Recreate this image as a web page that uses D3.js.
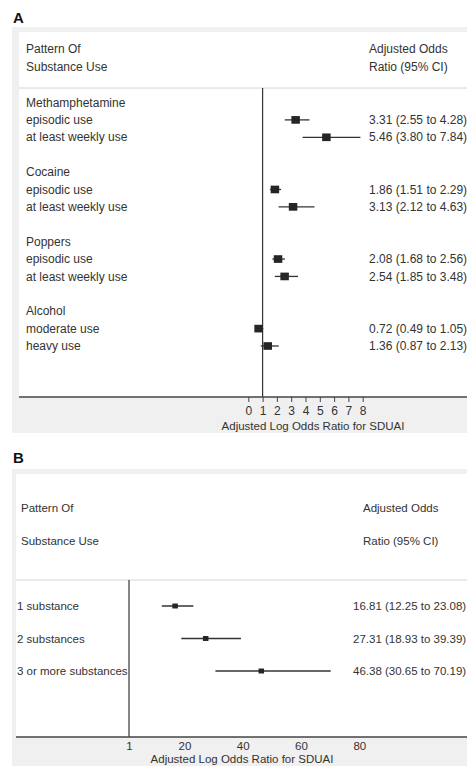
<!DOCTYPE html>
<html><head><meta charset="utf-8">
<script src="https://cdn.jsdelivr.net/npm/d3@7"></script>
<style>
html,body{margin:0;padding:0;background:#fff;overflow:hidden}
svg{display:block}
text{font-family:"Liberation Sans",Arial,sans-serif;fill:#333}
</style></head>
<body>
<svg id="c" width="467" height="766"></svg>
<script>
// ---- Panel A data ----
const labelsA = ["Methamphetamine","episodic use","at least weekly use","","Cocaine","episodic use","at least weekly use","","Poppers","episodic use","at least weekly use","","Alcohol","moderate use","heavy use"];
const orA   = [null,3.31,5.46,null,null,1.86,3.13,null,null,2.08,2.54,null,null,0.72,1.36];
const lowA  = [null,2.55,3.80,null,null,1.51,2.12,null,null,1.68,1.85,null,null,0.49,0.87];
const highA = [null,4.28,7.84,null,null,2.29,4.63,null,null,2.56,3.48,null,null,1.05,2.13];
const ticksA = [0,1,2,3,4,5,6,7,8];
// ---- Panel B data ----
const labelsB = ["1 substance","2 substances","3 or more substances"];
const orB   = [16.81,27.31,46.38];
const lowB  = [12.25,18.93,30.65];
const highB = [23.08,39.39,70.19];
const ticksB = [1,20,40,60,80];
const headLeft = ["Pattern Of","Substance Use"];
const headRight = ["Adjusted Odds","Ratio (95% CI)"];
const axisTitle = "Adjusted Log Odds Ratio for SDUAI";

const svg = d3.select("#c");
const fmt = d3.format(".2f");
const W = 467;

function panel(cfg){
  const fs = cfg.fontSize + "px";
  const g = svg.append("g");
  // outer grey frame
  g.append("rect").attr("x",12).attr("y",cfg.frameTop).attr("width",W).attr("height",cfg.frameBottom-cfg.frameTop).attr("fill","#f0f0f0");
  g.append("rect").attr("x",cfg.innerLeft).attr("y",cfg.innerTop).attr("width",W).attr("height",cfg.axisY-cfg.innerTop).attr("fill","#fff");
  // panel letter
  g.append("text").attr("x",13).attr("y",cfg.letterY).attr("dy","0.35em").style("font-size","15px").style("font-weight","bold").style("fill","#111").text(cfg.letter);
  // headers
  headLeft.forEach((t,i)=>g.append("text").attr("x",cfg.headLeftX).attr("y",cfg.headY[i]).attr("dy","0.35em").style("font-size",fs).text(t));
  headRight.forEach((t,i)=>g.append("text").attr("x",cfg.headRightX).attr("y",cfg.headY[i]).attr("dy","0.35em").style("font-size",fs).text(t));
  // separator
  g.append("line").attr("x1",cfg.innerLeft).attr("x2",W).attr("y1",cfg.sepY).attr("y2",cfg.sepY).attr("stroke","#d4d4d4").attr("stroke-width",1);
  const x = d3.scaleLinear().domain(cfg.domain).range(cfg.range);
  const y = d3.scalePoint().domain(d3.range(cfg.labels.length)).range(cfg.rowRange);
  // reference line
  g.append("line").attr("x1",x(1)).attr("x2",x(1)).attr("y1",cfg.sepY).attr("y2",cfg.axisY).attr("stroke","#333").attr("stroke-width",1.2);
  // labels
  g.selectAll(null).data(cfg.labels).enter().append("text")
    .attr("x",cfg.labelX).attr("y",(d,i)=>y(i)).attr("dy","0.35em").style("font-size",fs).text(d=>d);
  const idx = d3.range(cfg.labels.length).filter(i=>cfg.or[i]!=null);
  // CI lines
  g.selectAll(null).data(idx).enter().append("line")
    .attr("x1",i=>x(cfg.low[i])).attr("x2",i=>x(cfg.high[i]))
    .attr("y1",i=>y(i)).attr("y2",i=>y(i)).attr("stroke","#333").attr("stroke-width",1.3);
  // markers
  const s = cfg.markerSize;
  g.selectAll(null).data(idx).enter().append("rect")
    .attr("x",i=>x(cfg.or[i])-s/2).attr("y",i=>y(i)-s*0.45).attr("width",s).attr("height",s*0.9).attr("fill","#252525");
  // values
  g.selectAll(null).data(idx).enter().append("text")
    .attr("x",cfg.valueX).attr("y",i=>y(i)).attr("dy","0.35em").style("font-size",fs)
    .text(i=>`${fmt(cfg.or[i])} (${fmt(cfg.low[i])} to ${fmt(cfg.high[i])})`);
  // axis
  g.append("line").attr("x1",cfg.innerLeft).attr("x2",W).attr("y1",cfg.axisY).attr("y2",cfg.axisY).attr("stroke","#444").attr("stroke-width",1.3);
  const ax = g.append("g").attr("transform",`translate(0,${cfg.axisY})`)
    .call(d3.axisBottom(x).tickValues(cfg.ticks).tickSize(cfg.tickSize).tickPadding(cfg.tickPad).tickFormat(d3.format("d")));
  ax.select(".domain").remove();
  ax.selectAll(".tick line").attr("stroke","#444");
  ax.selectAll(".tick text").style("font-size",fs).style("font-family","'Liberation Sans',Arial,sans-serif").attr("fill","#333");
  g.append("text").attr("x",cfg.titleX).attr("y",cfg.titleY).attr("dy","0.35em").attr("text-anchor","middle").style("font-size","11.5px").text(axisTitle);
}

panel({
  letter:"A", letterY:18, frameTop:27, frameBottom:433, innerLeft:19, innerTop:32, fontSize:12,
  headLeftX:26, headRightX:369, headY:[49,67], sepY:88,
  domain:[0,8], range:[248.3,362.7], labels:labelsA, or:orA, low:lowA, high:highA,
  rowRange:[102.5,346], labelX:26, valueX:369, markerSize:8.5,
  axisY:397, ticks:ticksA, tickSize:5, tickPad:4, titleX:313, titleY:426
});
panel({
  letter:"B", letterY:458, frameTop:469, frameBottom:790, innerLeft:16, innerTop:474, fontSize:11.5,
  headLeftX:21, headRightX:363, headY:[508,541], sepY:580,
  domain:[0,80], range:[126.1,359.3], labels:labelsB, or:orB, low:lowB, high:highB,
  rowRange:[606,671], labelX:17, valueX:353, markerSize:5.5,
  axisY:737, ticks:ticksB, tickSize:0, tickPad:5, titleX:242, titleY:759
});
</script>
</body></html>
